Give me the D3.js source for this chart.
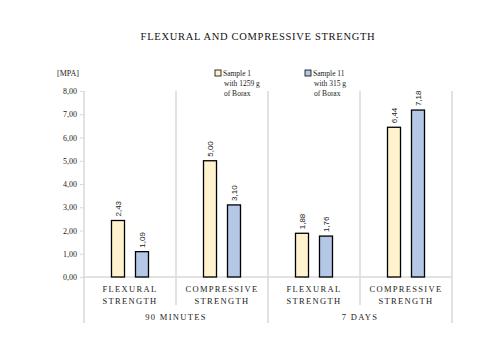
<!DOCTYPE html>
<html>
<head>
<meta charset="utf-8">
<script src="https://cdn.jsdelivr.net/npm/d3@7"></script>
<style>
	body { margin: 0; background: #fff; }
	svg { display: block; }
</style>
</head>
<body>
<svg id="chart" width="487" height="351"></svg>
<script>
var categories = ["FLEXURAL STRENGTH", "COMPRESSIVE STRENGTH", "FLEXURAL STRENGTH", "COMPRESSIVE STRENGTH"];
var groups = ["90 MINUTES", "7 DAYS"];
var seriesNames = ["Sample 1", "Sample 11"];
var seriesNotes = [["with 1259 g", "of Borax"], ["with 315 g", "of Borax"]];
var sample1 = [2.43, 5.00, 1.88, 6.44];
var sample11 = [1.09, 3.10, 1.76, 7.18];
var yTicks = [0, 1, 2, 3, 4, 5, 6, 7, 8];

var colors = ["#fff2cc", "#b4c7e7"];
var serif = "'Liberation Serif', 'DejaVu Serif', serif";
var sans = "'Liberation Sans', Arial, sans-serif";
var gray = "#d9d9d9";

var svg = d3.select("#chart");
// note: "top" is taken by window.top, so use plot* names
var plotLeft = 84, plotRight = 452, plotTop = 91, plotBottom = 277;

var x = d3.scaleBand().domain(d3.range(categories.length))
	.range([plotLeft, plotRight]).paddingInner(0).paddingOuter(0);
var xs = d3.scaleBand().domain([0, 1]).range([0, x.bandwidth()])
	.paddingInner(0.458).paddingOuter(1.146);
var y = d3.scaleLinear().domain([0, 8]).range([plotBottom, plotTop]);

function fmt(v) { return d3.format(".2f")(v).replace(".", ","); }

// title
svg.append("text")
	.attr("x", 258).attr("y", 40)
	.attr("text-anchor", "middle")
	.attr("font-family", serif).attr("font-size", 10.5)
	.attr("letter-spacing", 0.7)
	.attr("fill", "#111")
	.text("FLEXURAL AND COMPRESSIVE STRENGTH");

// unit label
svg.append("text")
	.attr("x", 57).attr("y", 76)
	.attr("font-family", serif).attr("font-size", 8)
	.attr("fill", "#222")
	.text("[MPA]");

// y axis
var yAxis = d3.axisLeft(y).tickValues(yTicks).tickSize(4).tickFormat(fmt);
var ya = svg.append("g").attr("transform", "translate(" + plotLeft + ",0)").call(yAxis);
ya.select(".domain").remove();
ya.selectAll(".tick line").attr("stroke", gray);
ya.selectAll(".tick text")
	.attr("font-family", serif).attr("font-size", 8)
	.attr("fill", "#222").attr("x", -7);

// axis lines and separators
svg.append("line").attr("x1", plotLeft).attr("x2", plotLeft).attr("y1", plotTop).attr("y2", 323)
	.attr("stroke", gray).attr("stroke-width", 1.5);
svg.append("line").attr("x1", plotLeft).attr("x2", plotRight).attr("y1", plotBottom).attr("y2", plotBottom)
	.attr("stroke", gray).attr("stroke-width", 1.5);
d3.range(1, categories.length + 1).forEach(function (i) {
	var xx = i < categories.length ? x(i) : plotRight;
	var isGroup = i % 2 === 0;
	svg.append("line").attr("x1", xx).attr("x2", xx)
		.attr("y1", plotTop).attr("y2", isGroup ? 323 : 305)
		.attr("stroke", gray).attr("stroke-width", 1.5);
});

// bars
[sample1, sample11].forEach(function (vals, s) {
	var g = svg.append("g");
	g.selectAll("rect").data(vals).enter().append("rect")
		.attr("x", (d, i) => x(i) + xs(s))
		.attr("y", d => y(d))
		.attr("width", xs.bandwidth())
		.attr("height", d => y(0) - y(d))
		.attr("fill", colors[s])
		.attr("stroke", "#000").attr("stroke-width", 1.3);
	g.selectAll("text").data(vals).enter().append("text")
		.attr("transform", (d, i) => "translate(" + (x(i) + xs(s) + xs.bandwidth() / 2 + 3) + "," + (y(d) - 4) + ") rotate(-90)")
		.attr("font-family", sans).attr("font-size", 8)
		.attr("fill", "#222")
		.text(fmt);
});

// category labels
categories.forEach(function (c, i) {
	var words = c.split(" ");
	var t = svg.append("text")
		.attr("text-anchor", "middle")
		.attr("font-family", serif).attr("font-size", 8.5)
		.attr("letter-spacing", 1.3)
		.attr("fill", "#222");
	words.forEach(function (w, k) {
		t.append("tspan").attr("x", x(i) + x.bandwidth() / 2).attr("y", 292 + k * 11.5).text(w);
	});
});
groups.forEach(function (gname, k) {
	svg.append("text")
		.attr("x", x(k * 2 + 1))
		.attr("y", 320)
		.attr("text-anchor", "middle")
		.attr("font-family", serif).attr("font-size", 8.5)
		.attr("letter-spacing", 1.3)
		.attr("fill", "#222")
		.text(gname);
});

// legend
var legendX = [215, 305];
seriesNames.forEach(function (name, s) {
	var lg = svg.append("g").attr("transform", "translate(" + legendX[s] + ",0)");
	lg.append("rect").attr("x", 0).attr("y", 70).attr("width", 6).attr("height", 6)
		.attr("fill", colors[s]).attr("stroke", "#000").attr("stroke-width", 0.8);
	var t = lg.append("text").attr("font-family", serif).attr("font-size", 7.5).attr("fill", "#222");
	t.append("tspan").attr("x", 8).attr("y", 76).text(name);
	seriesNotes[s].forEach(function (line, k) {
		t.append("tspan").attr("x", 9).attr("y", 86 + k * 10).text(line);
	});
});
</script>
</body>
</html>
